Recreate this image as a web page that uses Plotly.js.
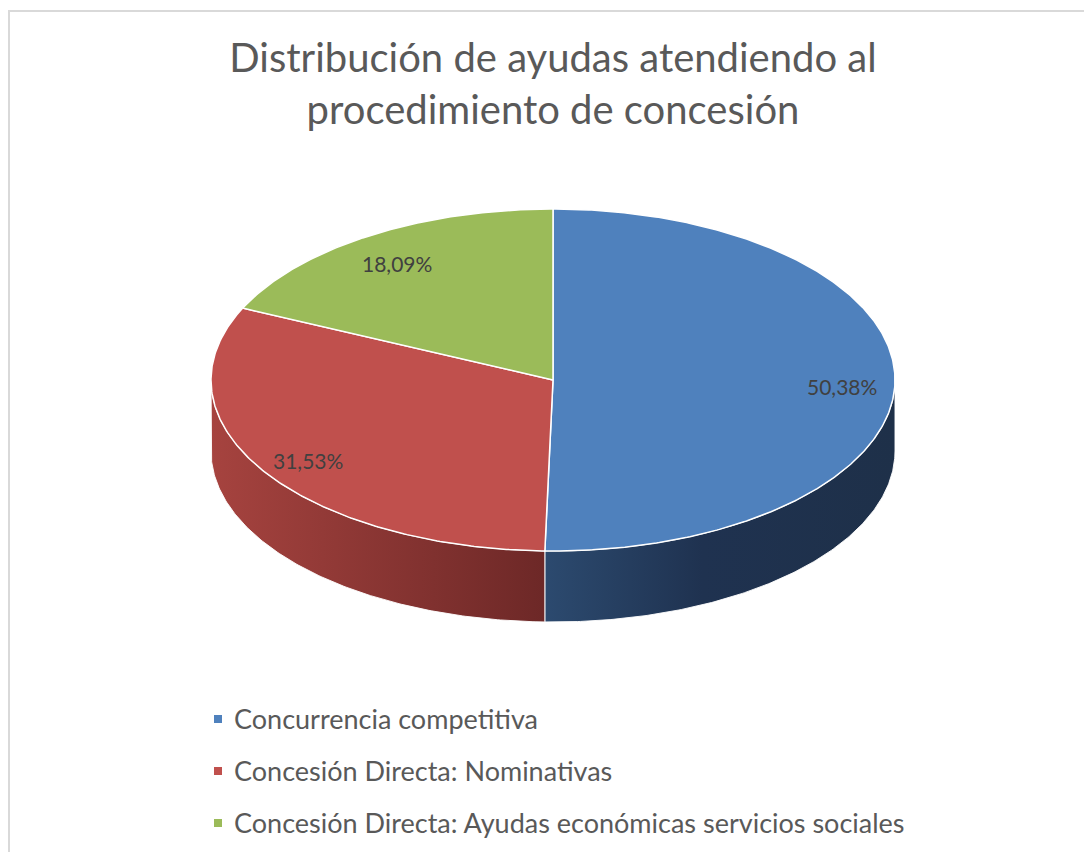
<!DOCTYPE html>
<html>
<head>
<meta charset="utf-8">
<script src="https://cdn.plot.ly/plotly-3.0.1.min.js"></script>
<style>html,body{margin:0;padding:0;background:#fff;}#chart{width:1084px;height:852px;}</style>
</head>
<body>
<div id="chart"></div>
<script>
// ---- data ----
const categories = ['Concurrencia competitiva', 'Concesión Directa: Nominativas', 'Concesión Directa: Ayudas económicas servicios sociales'];
const values = [50.38, 31.53, 18.09];
const valueLabels = ['50,38%', '31,53%', '18,09%'];
const titleText = 'Distribución de ayudas atendiendo al<br>procedimiento de concesión';

// ---- style ----
const topColors = ['#4f81bd', '#c0504d', '#9bbb59'];
const sideScales = [
  [[0, '#2c4a6f'], [0.45, '#1f3250'], [1, '#1e3049']],
  [[0, '#a6433f'], [1, '#6d2827']],
  [[0, '#7a9440'], [1, '#5b6e30']]
];
const FONT = 'Lato, "Open Sans", sans-serif';
const CX = 553, CY = 380, RX = 342, RY = 171, DEPTH = 71;

function pt(deg, dy) {
  const r = deg * Math.PI / 180;
  return [CX + RX * Math.sin(r), CY - RY * Math.cos(r) + (dy || 0)];
}
function arc(a, b, dy) {
  const xs = [], ys = [];
  const n = Math.max(2, Math.ceil(Math.abs(b - a) / 0.5));
  for (let i = 0; i <= n; i++) {
    const p = pt(a + (b - a) * i / n, dy);
    xs.push(p[0]); ys.push(p[1]);
  }
  return [xs, ys];
}

const total = values.reduce((s, v) => s + v, 0);
const traces = [];
const tops = [];
const annotations = [];
let cum = 0;
values.forEach((v, i) => {
  const a = cum / total * 360;
  const b = (cum + v) / total * 360;
  cum += v;
  // side face (front half: 90..270)
  const sa = Math.max(a, 90), sb = Math.min(b, 270);
  if (sb > sa) {
    const [tx, ty] = arc(sa, sb, 0);
    const [bx, by] = arc(sb, sa, DEPTH);
    const xs = tx.concat(bx, [tx[0]]);
    const ys = ty.concat(by, [ty[0]]);
    traces.push({
      type: 'scatter', mode: 'lines', x: xs, y: ys, fill: 'toself',
      line: {color: 'rgba(255,255,255,0.9)', width: 1},
      fillcolor: sideScales[i][0][1],
      fillgradient: {type: 'horizontal', colorscale: sideScales[i], start: Math.min(...xs), stop: Math.max(...xs)},
      hoverinfo: 'skip', showlegend: false
    });
  }
  // top face
  const [ax, ay] = arc(a, b, 0);
  tops.push({
    type: 'scatter', mode: 'lines',
    x: [CX].concat(ax, [CX]), y: [CY].concat(ay, [CY]),
    fill: 'toself', fillcolor: topColors[i],
    line: {color: '#ffffff', width: 1.5},
    hoverinfo: 'skip', showlegend: false
  });
  // label
  const mid = (a + b) / 2;
  const r = mid * Math.PI / 180;
  annotations.push({
    x: CX + 0.845 * RX * Math.sin(r), y: CY - 0.84 * RY * Math.cos(r) + 5,
    xref: 'x', yref: 'y', text: valueLabels[i], showarrow: false,
    font: {family: FONT, size: 21, color: '#404040'}, xanchor: 'center', yanchor: 'middle'
  });
  // legend
  annotations.push({
    x: 232, y: 718 + 52 * i, xref: 'x', yref: 'y', text: categories[i], showarrow: false,
    font: {family: FONT, size: 27, color: '#595959'}, xanchor: 'left', yanchor: 'middle'
  });
});
traces.push(...tops);
traces.push({
  type: 'scatter', mode: 'markers',
  x: categories.map(() => 218), y: categories.map((c, i) => 719 + 52 * i),
  marker: {symbol: 'square', size: 8, color: topColors},
  hoverinfo: 'skip', showlegend: false
});

const layout = {
  width: 1084, height: 852,
  margin: {l: 0, r: 0, t: 0, b: 0},
  paper_bgcolor: '#ffffff', plot_bgcolor: '#ffffff',
  showlegend: false,
  title: {text: titleText, x: 553 / 1084, xanchor: 'center', y: 1 - 72 / 852, yanchor: 'top', yref: 'container',
          font: {family: FONT, size: 40, color: '#595959'}},
  xaxis: {range: [0, 1084], visible: false, fixedrange: true},
  yaxis: {range: [852, 0], visible: false, fixedrange: true},
  annotations: annotations,
  shapes: [{type: 'rect', xref: 'paper', yref: 'paper', x0: 9 / 1084, x1: 1.05, y0: -0.05, y1: 1 - 11 / 852,
            line: {color: '#d9d9d9', width: 2}, fillcolor: 'rgba(0,0,0,0)', layer: 'below'}]
};

Plotly.newPlot('chart', traces, layout, {displayModeBar: false, staticPlot: true});
</script>
</body>
</html>
